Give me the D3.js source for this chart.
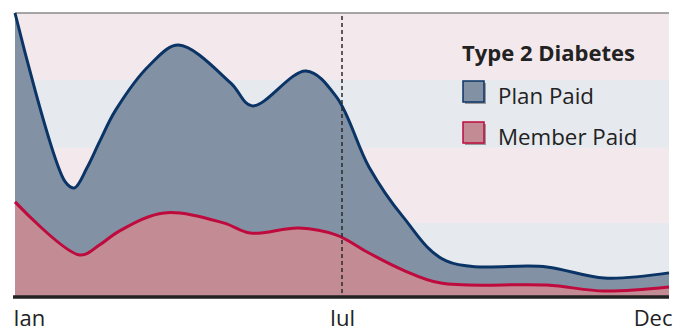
<!DOCTYPE html>
<html><head><meta charset="utf-8">
<script src="https://cdn.jsdelivr.net/npm/d3@7"></script>
<style>
html,body{margin:0;padding:0;background:#fff;}
svg{display:block;font-family:"Open Sans",sans-serif;}
</style></head>
<body><svg id="chart" width="686" height="326"></svg>
<script>
// ---- data ----
const planDates   = ["2023-01-01","2023-01-29","2023-02-03","2023-02-10","2023-02-17","2023-02-26","2023-03-17","2023-04-02","2023-05-01","2023-05-13","2023-06-12","2023-06-29","2023-07-17","2023-08-05","2023-08-29","2023-10-24","2023-11-25","2023-12-31"];
const planValues  = [100, 40.5, 38.4, 45.4, 54.6, 65.8, 81.7, 88.7, 75.4, 67.3, 79.6, 70.4, 45.8, 28.2, 12.7, 10.6, 6.7, 8.5];
const memberDates = ["2023-01-01","2023-02-06","2023-02-17","2023-02-28","2023-03-25","2023-04-27","2023-05-12","2023-06-08","2023-06-29","2023-07-17","2023-08-05","2023-08-26","2023-10-24","2023-11-25","2023-12-31"];
const memberValues= [33.5, 14.8, 18.3, 23.2, 29.6, 26.1, 22.5, 24.3, 21.8, 15.5, 9.5, 4.9, 4.2, 2.1, 3.5];
const bandEdges   = [0, 26.1, 52.5, 76.4, 100];
const tickDates   = ["2023-01-01","2023-07-02","2023-12-31"];
const tickLabels  = ["Jan","Jul","Dec"];
const markerDate  = "2023-07-02";
const legendTitle = "Type 2 Diabetes";
const seriesNames = ["Plan Paid","Member Paid"];

// ---- setup ----
const parse = d3.timeParse("%Y-%m-%d");
const svg = d3.select("#chart");
const L = 15, R = 669, T = 13, B = 297;
const x = d3.scaleTime().domain([parse("2023-01-01"), parse("2023-12-31")]).range([L, R]);
const y = d3.scaleLinear().domain([0, 100]).range([B, T]);

const bandColors = ["#e6e9ee", "#f3e8ec", "#e6e9ee", "#f3e8ec"];
svg.append("g").selectAll("rect").data(d3.range(bandEdges.length - 1)).join("rect")
  .attr("x", L).attr("width", R - L)
  .attr("y", i => y(bandEdges[i + 1]))
  .attr("height", i => y(bandEdges[i]) - y(bandEdges[i + 1]))
  .attr("fill", i => bandColors[i]);

svg.append("line").attr("x1", L).attr("x2", R).attr("y1", T).attr("y2", T)
  .attr("stroke", "#8a8a8a").attr("stroke-width", 1.5);

const plan = planDates.map((d, i) => ({d: parse(d), v: planValues[i]}));
const member = memberDates.map((d, i) => ({d: parse(d), v: memberValues[i]}));
const curve = d3.curveCatmullRom.alpha(0.5);
const area = d3.area().x(p => x(p.d)).y0(y(0)).y1(p => y(p.v)).curve(curve);
const line = d3.line().x(p => x(p.d)).y(p => y(p.v)).curve(curve);

const series = [
  {data: plan, fill: "#8291a3", stroke: "#0b3466"},
  {data: member, fill: "#c38b94", stroke: "#bf0a3e"}
];
series.forEach(s => {
  svg.append("path").datum(s.data).attr("d", area).attr("fill", s.fill);
});
series.forEach(s => {
  svg.append("path").datum(s.data).attr("d", line).attr("fill", "none")
    .attr("stroke", s.stroke).attr("stroke-width", 3).attr("stroke-linejoin", "round");
});

svg.append("line").attr("x1", x(parse(markerDate))).attr("x2", x(parse(markerDate)))
  .attr("y1", 16).attr("y2", 293)
  .attr("stroke", "#2a2a2a").attr("stroke-width", 1.5).attr("stroke-dasharray", "4,3");

const axis = d3.axisBottom(x).tickValues(tickDates.map(parse))
  .tickFormat((d, i) => tickLabels[i]).tickSize(0).tickPadding(13);
const ax = svg.append("g").attr("transform", `translate(0,${B})`).call(axis);
ax.select(".domain").attr("stroke", "#222").attr("stroke-width", 3.5)
  .attr("d", `M${L - 2},0H${R}`);
const last = tickLabels.length - 1;
ax.selectAll("text").attr("font-size", 22).attr("fill", "#222")
  .attr("font-family", "'Open Sans',sans-serif")
  .attr("dx", (d, i) => i === 0 ? -2 : (i === last ? 3 : 0))
  .attr("text-anchor", (d, i) => i === 0 ? "start" : (i === last ? "end" : "middle"));

const lg = svg.append("g");
lg.append("text").attr("x", 462).attr("y", 61).text(legendTitle)
  .attr("font-size", 22).attr("font-weight", "bold").attr("fill", "#222");
seriesNames.forEach((name, i) => {
  const yy = 81 + i * 41;
  lg.append("rect").attr("x", 465).attr("y", yy + 2).attr("width", 21).attr("height", 21).attr("fill", "#9a9a9a");
  lg.append("rect").attr("x", 463).attr("y", yy).attr("width", 21).attr("height", 21)
    .attr("fill", series[i].fill).attr("stroke", series[i].stroke).attr("stroke-width", 1.5);
  lg.append("text").attr("x", 498).attr("y", yy + 23).text(name)
    .attr("font-size", 22.3).attr("fill", "#222");
});
</script></body></html>
